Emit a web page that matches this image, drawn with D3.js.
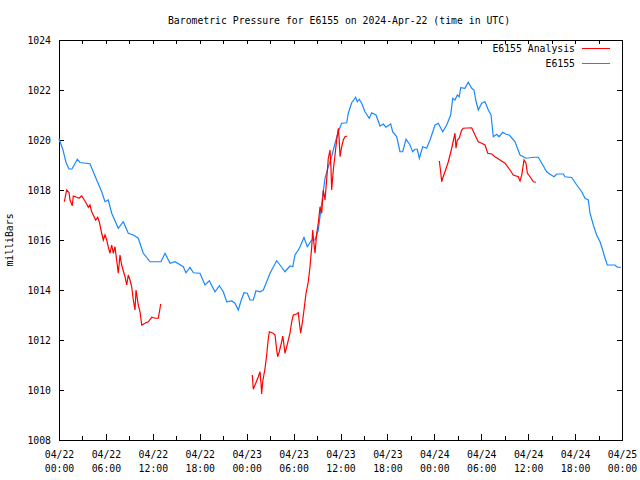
<!DOCTYPE html>
<html><head><meta charset="utf-8">
<script src="https://cdn.jsdelivr.net/npm/d3@7"></script>
<style>
body{margin:0;background:#fff;}
svg{display:block;}
text{font-family:"DejaVu Sans Mono",monospace;font-size:9.8px;fill:#000;}
</style></head><body>
<script>
const title = "Barometric Pressure for E6155 on 2024-Apr-22 (time in UTC)";
const yLabel = "milliBars";
const startTime = Date.UTC(2024,3,22,0,0);
const yTicks = [1008,1010,1012,1014,1016,1018,1020,1022,1024];
const seriesNames = ["E6155 Analysis","E6155"];

// E6155 observed (hours since 04/22 00:00 UTC, mb)
const obsHours = [0,0.51,0.9,1.28,1.66,2.34,2.69,3.96,4.82,5.46,5.88,6.3,6.74,7.58,8.22,8.86,9.5,10.14,10.78,11.64,13.04,13.56,14.2,14.83,15.9,16.24,16.75,17.18,18.03,18.67,19.22,19.95,20.5,21.01,21.45,22.09,22.51,22.93,23.28,23.66,24.08,24.43,24.85,25.19,25.71,26.13,26.56,26.98,27.84,28.48,28.9,29.54,29.89,30.18,30.6,30.82,31.33,31.75,32.32,32.74,33.16,33.6,34.02,34.44,34.87,35.3,35.72,36.15,36.79,37.0,37.43,37.94,38.15,38.4,38.71,39.13,39.68,39.99,40.54,41.05,41.47,41.82,42.42,42.67,43.19,43.61,43.95,44.38,44.89,45.23,45.53,45.82,46.08,46.51,47.02,47.45,48.09,48.51,49.07,49.58,50.09,50.35,50.64,50.94,51.19,51.37,51.92,52.34,52.78,53.07,53.33,53.62,54.06,54.48,54.9,55.25,55.54,55.98,56.27,56.74,57.17,57.59,58.32,58.96,59.72,60.24,60.66,61.3,61.74,62.37,62.79,63.31,63.65,64.49,64.71,65.57,66.21,66.85,67.27,67.69,67.91,68.33,68.76,69.19,69.53,69.83,70.12,71.1,71.4,71.87];
const obsPressure = [1020.05,1019.6,1019.1,1018.84,1018.84,1019.23,1019.1,1019.05,1018.4,1017.93,1017.53,1017.6,1017.07,1016.47,1016.73,1016.27,1016.2,1016.07,1015.47,1015.13,1015.13,1015.47,1015.07,1015.13,1014.93,1014.69,1014.91,1014.69,1014.67,1014.2,1014.37,1013.93,1014.17,1013.93,1013.53,1013.56,1013.47,1013.2,1013.57,1013.89,1013.87,1013.6,1013.6,1013.97,1013.93,1014.0,1014.33,1014.67,1015.17,1014.91,1014.73,1014.96,1014.93,1015.4,1015.6,1015.73,1016.1,1015.73,1016.0,1016.0,1016.4,1017.47,1018.47,1018.93,1019.33,1019.87,1020.33,1020.67,1020.69,1021.07,1021.49,1021.71,1021.53,1021.63,1021.47,1021.13,1020.87,1021.09,1021.0,1020.56,1020.64,1020.51,1020.64,1020.33,1020.13,1019.53,1019.53,1020.03,1019.8,1019.53,1019.63,1019.63,1019.27,1019.73,1019.67,1020.0,1020.6,1020.67,1020.33,1020.6,1021.0,1021.67,1021.6,1021.8,1021.73,1022.09,1022.07,1022.31,1022.07,1022.0,1021.56,1021.2,1021.47,1021.53,1021.2,1021.0,1020.13,1020.23,1020.13,1020.31,1020.23,1020.2,1019.93,1019.4,1019.27,1019.29,1019.31,1019.31,1019.07,1018.73,1018.63,1018.53,1018.64,1018.64,1018.53,1018.5,1018.2,1017.93,1017.67,1017.6,1017.07,1016.6,1016.2,1015.93,1015.6,1015.27,1015.0,1015.0,1014.91,1014.91];

// E6155 Analysis (null = gap)
const anaHours = [0.68,0.98,1.28,1.41,1.7,1.83,2.26,2.56,2.9,3.24,3.54,3.75,3.96,4.18,4.69,4.95,5.15,5.46,5.67,5.88,6.1,6.3,6.52,6.74,6.94,7.16,7.37,7.58,7.8,8.01,8.44,8.66,8.86,9.08,9.3,9.5,9.72,9.85,10.01,10.14,10.36,10.58,11.0,11.42,11.86,12.28,12.7,12.92,13.0,
 18,
 24.72,24.85,25.07,25.49,25.71,25.83,25.92,26.05,26.35,26.56,26.77,26.9,27.41,27.63,27.84,27.97,28.17,28.48,28.61,28.69,28.9,29.12,29.54,29.76,29.96,30.4,30.6,30.73,30.91,31.17,31.33,31.59,31.88,32.1,32.32,32.45,32.53,32.74,32.96,33.16,33.38,33.6,33.8,34.02,34.24,34.44,34.66,34.79,34.87,35.08,35.3,35.51,35.72,35.85,35.94,36.15,36.36,36.57,36.87,
 42,
 48.64,48.81,48.94,49.07,49.36,49.79,50.22,50.64,50.77,50.94,51.19,51.5,51.7,52.78,53.2,53.62,54.06,54.48,54.83,55.34,55.76,56.4,57.04,57.68,58.1,58.74,58.96,59.18,59.47,59.72,59.9,60.24,60.66,61.01];
const anaPressure = [1017.53,1018.0,1017.9,1017.6,1017.37,1017.76,1017.71,1017.67,1017.76,1017.6,1017.44,1017.31,1017.4,1017.13,1016.8,1016.91,1016.73,1016.27,1016.0,1016.2,1016.0,1015.73,1015.47,1015.8,1015.47,1015.73,1015.2,1014.67,1015.4,1015.0,1014.53,1014.2,1014.6,1014.4,1014.13,1013.6,1013.2,1014.0,1013.67,1013.4,1013.13,1012.6,1012.67,1012.73,1012.91,1012.87,1012.87,1013.27,1013.44,
 null,
 1010.6,1010.03,1010.2,1010.53,1010.73,1010.27,1009.84,1010.33,1010.87,1011.4,1012.07,1012.33,1012.27,1012.2,1011.6,1011.33,1011.53,1011.93,1012.16,1012.0,1011.47,1011.73,1012.27,1012.73,1013.0,1013.04,1013.09,1012.73,1012.27,1012.8,1013.2,1013.87,1014.33,1014.93,1015.73,1016.4,1016.07,1015.47,1016.27,1016.67,1017.33,1017.07,1018.0,1017.6,1018.47,1019.27,1019.6,1018.8,1018.0,1018.8,1019.4,1020.0,1020.47,1019.93,1019.33,1019.73,1020.0,1020.13,1020.16,
 null,
 1019.16,1018.73,1018.33,1018.47,1018.73,1019.13,1019.67,1020.27,1019.67,1020.0,1020.07,1020.4,1020.47,1020.49,1020.2,1019.93,1019.87,1019.8,1019.47,1019.44,1019.33,1019.2,1019.07,1018.8,1018.6,1018.53,1018.36,1018.6,1019.2,1019.07,1018.67,1018.53,1018.33,1018.31];

const W=640,H=480, m={l:59,r:18,t:40,b:40};
const svg=d3.select("body").append("svg").attr("width",W).attr("height",H);
const hr=h=>new Date(startTime+h*3600000);
const x=d3.scaleUtc().domain([hr(0),hr(72)]).range([m.l,W-m.r]);
const y=d3.scaleLinear().domain([1008,1024]).range([H-m.b,m.t]);

const minorTicks=d3.range(0,73,3).map(hr);
const majorTicks=d3.range(0,73,6).map(hr);
const fmtD=d3.utcFormat("%m/%d"), fmtT=d3.utcFormat("%H:%M");

function clean(g){g.select(".domain").remove();g.selectAll("line").attr("stroke","#000").attr("shape-rendering","crispEdges");}
svg.append("g").attr("transform",`translate(0,${H-m.b})`).call(d3.axisBottom(x).tickValues(minorTicks).tickSize(-4).tickFormat("")).call(clean);
svg.append("g").attr("transform",`translate(0,${m.t})`).call(d3.axisTop(x).tickValues(minorTicks).tickSize(-4).tickFormat("")).call(clean);
const xl=svg.append("g").attr("transform",`translate(0,${H-m.b})`).call(d3.axisBottom(x).tickValues(majorTicks).tickSize(-6).tickFormat(""));
xl.call(clean);
xl.selectAll(".tick").append("text").attr("text-anchor","middle").each(function(d){
  const t=d3.select(this);
  t.append("tspan").attr("x",0).attr("y",18).text(fmtD(d));
  t.append("tspan").attr("x",0).attr("y",32).text(fmtT(d));
});
const yl=svg.append("g").attr("transform",`translate(${m.l},0)`).call(d3.axisLeft(y).tickValues(yTicks).tickSize(-5).tickPadding(8).tickFormat(d3.format("d")));
yl.call(clean); yl.selectAll("text").attr("font-family",null).attr("font-size",null).attr("dy","0.35em");
svg.append("g").attr("transform",`translate(${W-m.r},0)`).call(d3.axisRight(y).tickValues(yTicks).tickSize(-5).tickFormat("")).call(clean);
svg.append("rect").attr("x",m.l+0.5).attr("y",m.t+0.5).attr("width",W-m.r-m.l).attr("height",H-m.b-m.t)
  .attr("fill","none").attr("stroke","#000").attr("shape-rendering","crispEdges");

const line=d3.line().defined(d=>d[1]!=null).x(d=>x(hr(d[0]))).y(d=>y(d[1]));
svg.append("path").datum(obsHours.map((h,i)=>[h,obsPressure[i]])).attr("d",line).attr("fill","none").attr("stroke","#1a88ff").attr("stroke-width",1.2);
svg.append("path").datum(anaHours.map((h,i)=>[h,anaPressure[i]])).attr("d",line).attr("fill","none").attr("stroke","#ff0000").attr("stroke-width",1.2);

svg.append("text").attr("x",339).attr("y",23.5).attr("text-anchor","middle").text(title);
svg.append("text").attr("transform","translate(13,240) rotate(-90)").attr("text-anchor","middle").text(yLabel);
const colors=["#ff0000","#1a88ff"];
seriesNames.forEach((n,i)=>{
  const ly=48+i*15;
  svg.append("text").attr("x",575).attr("y",ly+3.5).attr("text-anchor","end").text(n);
  svg.append("line").attr("x1",582).attr("x2",610).attr("y1",ly+0.5).attr("y2",ly+0.5).attr("stroke",colors[i]).attr("stroke-width",1).attr("shape-rendering","crispEdges");
});
</script></body></html>
